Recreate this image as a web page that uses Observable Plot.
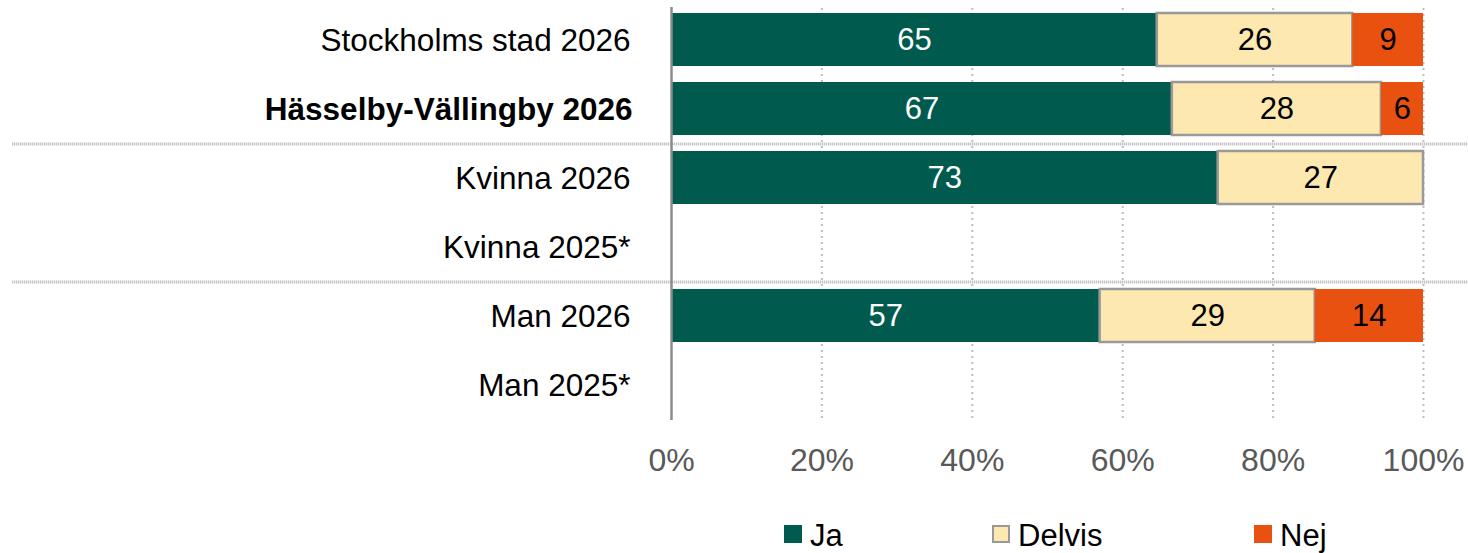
<!DOCTYPE html>
<html>
<head>
<meta charset="utf-8">
<script src="https://cdn.jsdelivr.net/npm/d3@7"></script>
<script src="https://cdn.jsdelivr.net/npm/@observablehq/plot@0.6"></script>
<style>
  html, body { margin: 0; padding: 0; background: #fff; }
  body { width: 1468px; height: 553px; position: relative; overflow: hidden; font-family: "Liberation Sans", Arial, sans-serif; }
  #chart { position: absolute; left: 0; top: 0; }
  .leg { position: absolute; top: 519px; height: 34px; font-size: 31px; color: #000; line-height: 34px; }
  .sw { position: absolute; width: 18px; height: 18px; box-sizing: border-box; }
</style>
</head>
<body>
<div id="chart"></div>
<div id="legend"></div>
<script>
const categories = ["Stockholms stad 2026", "Hässelby-Vällingby 2026", "Kvinna 2026", "Kvinna 2025*", "Man 2026", "Man 2025*"];
const boldCategory = "Hässelby-Vällingby 2026";
const responses = ["Ja", "Delvis", "Nej"];
const ja     = [64.6, 66.6, 72.7, null, 57.0, null];
const delvis = [26.0, 27.8, 27.3, null, 28.6, null];
const nej    = [9.4, 5.6, 0, null, 14.4, null];
const xTicks = [0, 20, 40, 60, 80, 100];
const separatorsBefore = ["Kvinna 2026", "Man 2026"];

const colors = { Ja: "#005A4E", Delvis: "#FDE9B0", Nej: "#E8510F" };
const textColors = { Ja: "#ffffff", Delvis: "#000000", Nej: "#000000" };
const strokes = { Ja: "none", Delvis: "#999999", Nej: "none" };

// long table with cumulative stacking from the data
const series = { Ja: ja, Delvis: delvis, Nej: nej };
const rows = [];
categories.forEach((cat, i) => {
  let acc = 0;
  for (const r of responses) {
    const v = series[r][i];
    if (v == null || v === 0) continue;
    rows.push({ cat, resp: r, value: v, x1: acc, x2: acc + v });
    acc += v;
  }
});

const W = 1468, H = 492;
const mTop = 2, mBottom = 71, mLeft = 671, mRight = 45;
const step = (H - mTop - mBottom) / categories.length;

const marks = [
  Plot.ruleX(xTicks.filter(d => d > 0), { stroke: "#bdbdbd", strokeWidth: 2, strokeDasharray: "2,4", insetTop: 6 }),
  Plot.ruleY(separatorsBefore, { y: d => d, x1: -87.6, x2: 106, dy: -step / 2 + 1, stroke: "#b0b0b0", strokeWidth: 3, strokeDasharray: "1,1" }),
  ...responses.map(r => Plot.barX(rows.filter(d => d.resp === r), {
    y: "cat", x1: "x1", x2: "x2", fill: colors[r], stroke: strokes[r], strokeWidth: 2.5, inset: 0
  })),
  ...responses.map(r => Plot.text(rows.filter(d => d.resp === r), {
    y: "cat", x: d => (d.x1 + d.x2) / 2, text: d => String(Math.round(d.value)), fill: textColors[r], fontSize: 31, dy: 0
  })),
  Plot.ruleX([0], { stroke: "#8c8c8c", strokeWidth: 2.5, insetTop: 5, insetBottom: 1 }),
  Plot.text(categories.filter(c => c !== boldCategory), {
    y: d => d, text: d => d, frameAnchor: "left", textAnchor: "end", dx: -41, fontSize: 31.5, fill: "#000", dy: 1
  }),
  Plot.text([boldCategory], {
    y: d => d, text: d => d, frameAnchor: "left", textAnchor: "end", dx: -39, fontSize: 31.5, fontWeight: "bold", fill: "#000", dy: 1
  }),
  Plot.axisX(xTicks, { tickSize: 0, tickPadding: 27, fontSize: 32, fill: "#595959", tickFormat: d => d + "%", anchor: "bottom", textAnchor: "middle" })
];

const chart = Plot.plot({
  width: W, height: H,
  marginTop: mTop, marginBottom: mBottom, marginLeft: mLeft, marginRight: mRight,
  style: { fontFamily: "'Liberation Sans', Arial, sans-serif", background: "#fff", overflow: "visible" },
  x: { domain: [0, 100], axis: null },
  y: { domain: categories, paddingInner: 0.235, paddingOuter: 0.12, axis: null },
  marks
});
document.getElementById("chart").appendChild(chart);

// legend
const legendPos = { Ja: 784, Delvis: 992, Nej: 1254 };
const leg = document.getElementById("legend");
for (const r of responses) {
  const sw = document.createElement("div");
  sw.className = "sw";
  sw.style.left = legendPos[r] + "px";
  sw.style.top = "525px";
  sw.style.background = colors[r];
  if (r === "Delvis") sw.style.border = "2px solid #999";
  leg.appendChild(sw);
  const t = document.createElement("div");
  t.className = "leg";
  t.style.left = (legendPos[r] + 26) + "px";
  t.textContent = r;
  leg.appendChild(t);
}
</script>
</body>
</html>
